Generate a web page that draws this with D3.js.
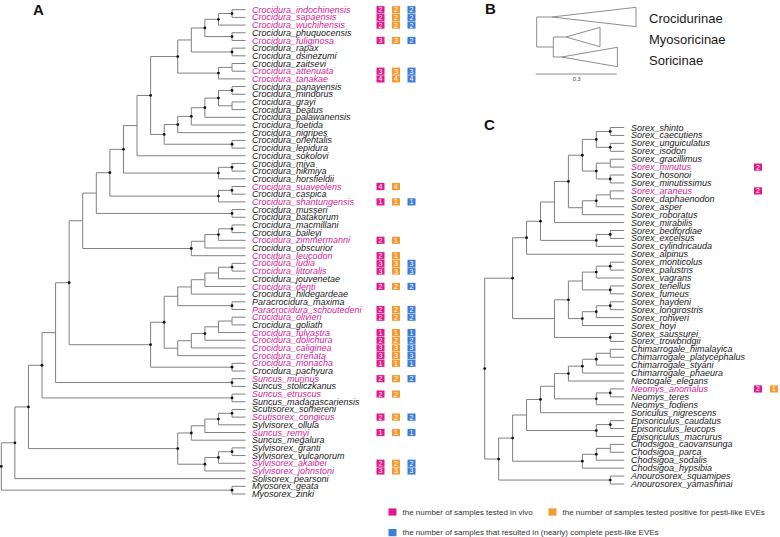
<!DOCTYPE html>
<html><head><meta charset="utf-8">
<script src="https://cdn.jsdelivr.net/npm/d3@7"></script>
<style>
body{margin:0;background:#fff;}
svg{display:block;font-family:"Liberation Sans",Arial,Helvetica,sans-serif;}
</style></head><body>
<svg id="c" width="780" height="537"></svg>
<script>
// ---------- DATA ----------
// Panel A clades (Newick, "*" = supported node)
const A1 = "(((((Crocidura_indochinensis,Crocidura_sapaensis)*,Crocidura_wuchihensis)*,(Crocidura_phuquocensis,Crocidura_fuliginosa)*)*,(Crocidura_rapax,Crocidura_dsinezumi)*),((Crocidura_zaitsevi,Crocidura_attenuata),Crocidura_tanakae)*)*";
const A2 = "((((((Crocidura_panayensis,Crocidura_mindorus)*,(Crocidura_grayi,Crocidura_beatus))*,Crocidura_palawanensis)*,Crocidura_foetida)*,Crocidura_nigripes)*,(Crocidura_orientalis,Crocidura_lepidura)*)*";
const A3 = "((Crocidura_miya,Crocidura_hikmiya)*,Crocidura_horsfieldii)*";
const A4 = "((Crocidura_suaveolens,Crocidura_caspica)*,Crocidura_shantungensis)*";
const A5 = "(Crocidura_musseri,Crocidura_batakorum)*";
const A6 = "((((Crocidura_macmillani,Crocidura_baileyi)*,Crocidura_zimmermanni)*,Crocidura_obscurior),Crocidura_leucodon)*";
const A7 = "(((((Crocidura_ludia,Crocidura_littoralis)*,Crocidura_jouvenetae),Crocidura_denti),Crocidura_hildegardeae),(Paracrocidura_maxima,Paracrocidura_schoutedeni)*)";
const A8 = "(((((Crocidura_olivieri,Crocidura_goliath),Crocidura_fulvastra),Crocidura_dolichura)*,Crocidura_caliginea),Crocidura_crenata)";
const A9 = "(Crocidura_monacha,Crocidura_pachyura)*";
const A10 = "(Suncus_murinus,Suncus_stoliczkanus)*";
const A11 = "(Suncus_etruscus,Suncus_madagascariensis)*";
const A12 = "(((((Scutisorex_somereni,Scutisorex_congicus)*,Sylvisorex_ollula)*,Suncus_remyi),Suncus_megalura)*,(((Sylvisorex_granti,Sylvisorex_vulcanorum)*,Sylvisorex_akaibei)*,Sylvisorex_johnstoni)*)*";
const A13 = "(Myosorex_geata,Myosorex_zinki)*";

// Panel C clades
const C1 = "(((Sorex_shinto,Sorex_caecutiens)*,(Sorex_unguiculatus,Sorex_isodon)*)*,((Sorex_gracillimus,Sorex_minutus),(Sorex_hosonoi,Sorex_minutissimus)*)*)*";
const C2 = "(((Sorex_araneus,Sorex_daphaenodon),Sorex_asper)*,Sorex_roboratus)";
const C3 = "((Sorex_bedfordiae,Sorex_excelsus)*,Sorex_cylindricauda)*";
const C4 = "(((((Sorex_monticolus,Sorex_palustris)*,Sorex_vagrans)*,(Sorex_tenellus,Sorex_fumeus)*),(((Sorex_haydeni,Sorex_longirostris)*,Sorex_rohweri)*,Sorex_hoyi)*)*,(Sorex_saussurei,Sorex_trowbridgii)*)";
const C5 = "(((((Chimarrogale_himalayica,Chimarrogale_platycephalus),Chimarrogale_styani)*,Chimarrogale_phaeura)*,Nectogale_elegans)*,((Neomys_anomalus,Neomys_teres)*,Neomys_fodiens)*)";
const C6 = "((Episoriculus_caudatus,Episoriculus_leucops)*,Episoriculus_macrurus)*";
const C7 = "(((Chodsigoa_caovansunga,Chodsigoa_parca),Chodsigoa_sodalis)*,Chodsigoa_hypsibia)*";
const C8 = "(Anourosorex_squamipes,Anourosorex_yamashinai)*";

// sample counts
const boxTaxa = ["Crocidura_indochinensis","Crocidura_sapaensis","Crocidura_wuchihensis","Crocidura_fuliginosa","Crocidura_attenuata","Crocidura_tanakae","Crocidura_suaveolens","Crocidura_shantungensis","Crocidura_zimmermanni","Crocidura_leucodon","Crocidura_ludia","Crocidura_littoralis","Crocidura_denti","Paracrocidura_schoutedeni","Crocidura_olivieri","Crocidura_fulvastra","Crocidura_dolichura","Crocidura_caliginea","Crocidura_crenata","Crocidura_monacha","Suncus_murinus","Suncus_etruscus","Scutisorex_congicus","Suncus_remyi","Sylvisorex_akaibei","Sylvisorex_johnstoni","Sorex_minutus","Sorex_araneus","Neomys_anomalus"];
const inVivo   = [2,2,2,3,3,4,4,1,2,2,3,3,2,2,2,1,2,3,3,1,2,2,2,1,2,3,2,2,2];
const positive = [2,2,2,3,3,4,4,1,1,1,3,3,2,2,2,1,2,3,3,1,2,2,2,1,2,3,null,null,1];
const complete = [2,2,2,2,3,4,null,1,null,null,3,3,2,2,2,1,2,3,3,1,2,null,2,1,2,3,null,null,null];

// Panel B
const subfamilies = ["Crocidurinae","Myosoricinae","Soricinae"];
const stemLen = [0.0575, 0.0476, 0.0315];   // from root (Croc) / from inner node (Myo, Sor)
const cladeDepth = [0.315, 0.1275, 0.2088];
const innerStem = 0.0623;
const scaleBarLen = 0.3;

const legendItems = ["the number of samples tested in vivo","the number of samples tested positive for pesti-like EVEs","the number of samples that resulted in (nearly) complete pesti-like EVEs"];

// ---------- STYLE ----------
const PINK_TXT = "#d4259a", PINK = "#e5198b", ORANGE = "#f39b32", BLUE = "#3d7dd8";
const LINE = "#808080";

function parseNewick(s){
  let i = 0;
  function node(){
    const n = {};
    if (s[i] === "("){
      i++; n.children = [];
      while (true){
        n.children.push(node());
        if (s[i] === ","){ i++; continue; }
        if (s[i] === ")"){ i++; break; }
        throw new Error("bad newick at " + i);
      }
      if (s[i] === "*"){ n.support = true; i++; }
    } else {
      const st = i;
      while (i < s.length && !",()*;".includes(s[i])) i++;
      n.name = s.slice(st, i);
    }
    return n;
  }
  return node();
}

const svg = d3.select("#c");
const counts = new Map(boxTaxa.map((t,i)=>[t,[inVivo[i],positive[i],complete[i]]]));

function drawTree(newick, o){
  const g = svg.append("g");
  const root = d3.hierarchy(parseNewick(newick));
  const leaves = root.leaves();
  const y = d3.scaleLinear().domain([0, leaves.length-1]).range([o.yFirst, o.yLast]);
  const x = d3.scaleLinear().domain([0, root.height]).range([o.tipX, o.rootX]);
  leaves.forEach((d,i)=>{ d.py = y(i); });
  root.eachAfter(d=>{
    if (d.children) d.py = (d.children[0].py + d.children[d.children.length-1].py)/2;
    d.px = x(d.height);
  });
  const nodes = root.descendants();
  g.selectAll("line.h").data(nodes.filter(d=>d.parent)).join("line")
    .attr("x1", d=>d.parent.px).attr("x2", d=>d.px)
    .attr("y1", d=>d.py).attr("y2", d=>d.py)
    .attr("stroke", LINE).attr("stroke-width", 1);
  g.selectAll("line.v").data(nodes.filter(d=>d.children)).join("line")
    .attr("x1", d=>d.px).attr("x2", d=>d.px)
    .attr("y1", d=>d.children[0].py).attr("y2", d=>d.children[d.children.length-1].py)
    .attr("stroke", LINE).attr("stroke-width", 1);
  g.selectAll("circle").data(nodes.filter(d=>d.data.support)).join("circle")
    .attr("cx", d=>d.px).attr("cy", d=>d.py).attr("r", 1.4).attr("fill", "#111");
  g.selectAll("text.lab").data(leaves).join("text")
    .attr("x", o.labelX).attr("y", d=>d.py).attr("dy", "0.34em")
    .attr("font-size", 9).attr("font-style", "italic")
    .attr("fill", d=>counts.has(d.data.name) ? PINK_TXT : "#1a1a1a")
    .text(d=>d.data.name);
  const cols = [PINK, ORANGE, BLUE];
  leaves.forEach(d=>{
    const c = counts.get(d.data.name);
    if (!c) return;
    c.forEach((v,k)=>{
      if (v == null) return;
      const cx = o.boxX[k];
      g.append("rect").attr("x", cx-4).attr("y", d.py-3.6).attr("width", 8).attr("height", 7.2).attr("fill", cols[k]);
      g.append("text").attr("x", cx).attr("y", d.py).attr("dy","0.35em").attr("text-anchor","middle")
        .attr("font-size", 7).attr("fill","#fff").text(v);
    });
  });
}

// Panel A
const aH7 = `(${A1},${A2})*`;
const aH8 = `(${aH7},Crocidura_sokolovi)`;
const aH9 = `(${aH8},${A3})*`;
const aH10 = `(${aH9},${A4})*`;
const aH11 = `(${aH10},${A5})`;
const aH12 = `(${aH11},${A6})`;
const aAfr = `((${A7},${A8})*,${A9})*`;
const aH13 = `(${aH12},${aAfr})*`;
const aH14 = `(${aH13},${A10})`;
const aH15 = `(${aH14},${A11})*`;
const aH16 = `(${aH15},${A12})*`;
const aH17 = `(${aH16},Solisorex_pearsoni)*`;
const treeA = `(${aH17},${A13})*`;

drawTree(treeA, {yFirst: 9.7, yLast: 494, tipX: 245.6, rootX: 1.3, labelX: 252, boxX: [380.5, 396, 411.5]});

// Panel C
const cSorex = `((((${C1},${C2})*,Sorex_mirabilis),${C3})*,Sorex_alpinus)*`;
const cSorexAll = `(${cSorex},${C4})*`;
const cLower = `((((${C5},Soriculus_nigrescens)*,${C6}),${C7})*,${C8})*`;
const treeC = `(${cSorexAll},${cLower})*`;

drawTree(treeC, {yFirst: 127.5, yLast: 484, tipX: 624.2, rootX: 484.7, labelX: 631, boxX: [758, 774, 789.5]});

// Panel B
(function(){
  const g = svg.append("g");
  const xb = d3.scaleLinear().domain([0, scaleBarLen]).range([536.7, 616.7]);
  const yc = d3.scaleLinear().domain([0, 2]).range([17, 57]);
  const half = 9.7;
  const innerX = xb(innerStem);
  const apex = [xb(stemLen[0]), innerX + (xb(stemLen[1])-xb(0)), innerX + (xb(stemLen[2])-xb(0))];
  const tipx = apex.map((a,i)=>a + (xb(cladeDepth[i])-xb(0)));
  const innerY = (yc(1)+yc(2))/2;
  const ln = (x1,y1,x2,y2)=>g.append("line").attr("x1",x1).attr("y1",y1).attr("x2",x2).attr("y2",y2).attr("stroke",LINE).attr("stroke-width",0.9);
  ln(xb(0), yc(0), xb(0), innerY);
  ln(xb(0), yc(0), apex[0], yc(0));
  ln(xb(0), innerY, innerX, innerY);
  ln(innerX, yc(1), innerX, yc(2));
  ln(innerX, yc(1), apex[1], yc(1));
  ln(innerX, yc(2), apex[2], yc(2));
  subfamilies.forEach((s,i)=>{
    g.append("path")
      .attr("d", `M${apex[i]},${yc(i)}L${tipx[i]},${yc(i)-half}L${tipx[i]},${yc(i)+half}Z`)
      .attr("fill","none").attr("stroke",LINE).attr("stroke-width",0.9);
    g.append("text").attr("x", 649).attr("y", 18 + i*21.3).attr("dy","0.35em")
      .attr("font-size", 13).attr("fill","#1a1a1a").text(s);
  });
  ln(xb(0)-1, 74, xb(scaleBarLen), 74);
  g.append("text").attr("x", (xb(0)+xb(scaleBarLen))/2).attr("y", 81).attr("text-anchor","middle")
    .attr("font-size", 5.5).attr("fill","#444").text(scaleBarLen);
})();

// Panel letters
[["A",33,15],["B",485,14],["C",484,130]].forEach(([t,x,y])=>{
  svg.append("text").attr("x",x).attr("y",y).attr("font-size",15).attr("font-weight","bold").attr("fill","#111").text(t);
});

// Legend
const legPos = [[388.5,512],[548.5,512],[388.5,532.6]];
const legCol = [PINK, ORANGE, BLUE];
legendItems.forEach((t,i)=>{
  const [x,y] = legPos[i];
  svg.append("rect").attr("x",x).attr("y",y-3.6).attr("width",8).attr("height",7.2).attr("fill",legCol[i]);
  svg.append("text").attr("x",x+14).attr("y",y).attr("dy","0.35em").attr("font-size",8).attr("fill","#333").text(t);
});
</script>
</body></html>
